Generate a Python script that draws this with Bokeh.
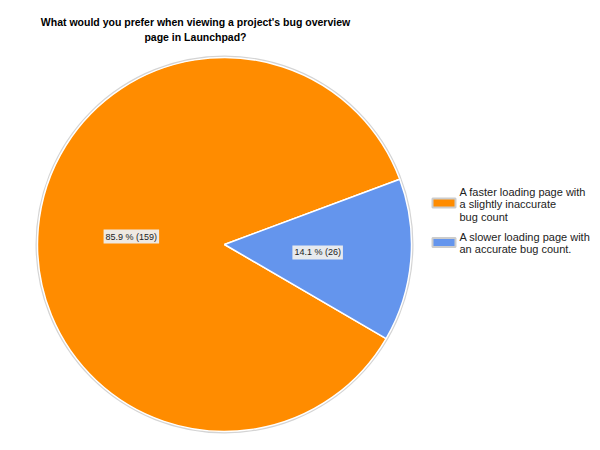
import math
from bokeh.plotting import figure
from bokeh.models import ColumnDataSource, Range1d
from bokeh.core.properties import value
from bokeh.embed import file_html
from bokeh.resources import INLINE

# ---- data ----
title_text = "What would you prefer when viewing a project's bug overview\npage in Launchpad?"
categories = ["A faster loading page with\na slightly inaccurate\nbug count",
              "A slower loading page with\nan accurate bug count."]
counts = [159, 26]
colors = ["#FF8C00", "#6495ED"]

W, H = 592, 442
def X(px):
    return px
def Y(py):
    return H - py

p = figure(width=W, height=H, output_backend="svg", toolbar_location=None,
           x_axis_type=None, y_axis_type=None, min_border=0,
           x_range=Range1d(0, W), y_range=Range1d(0, H))
p.outline_line_color = None
p.grid.visible = False
p.background_fill_color = "white"
p.border_fill_color = "white"

cx, cy, r = X(224), Y(244), 187
total = sum(counts)
start0 = math.radians(20.4)
starts, ends, lx, ly, ltext = [], [], [], [], []
a = start0
for c in counts:
    span = 2 * math.pi * c / total
    starts.append(a)
    ends.append(a + span)
    mid = a + span / 2
    lx.append(cx + 0.5 * r * math.cos(mid))
    ly.append(cy + 0.5 * r * math.sin(mid))
    ltext.append(f"{c / total * 100:.1f} % ({c})")
    a += span

# outer shadow ring
p.circle(x=[cx], y=[cy], radius=r + 1, fill_color=None, line_color="#d4d4d4", line_width=2)

src = ColumnDataSource(dict(start=starts, end=ends, color=colors))
p.wedge(x=cx, y=cy, radius=r, start_angle="start", end_angle="end",
        fill_color="color", line_color="white", line_width=1.5, source=src)

lsrc = ColumnDataSource(dict(x=lx, y=ly, t=ltext))
p.text(x="x", y="y", text="t", source=lsrc, text_align="center", text_baseline="middle",
       text_font=value("Liberation Sans"), text_font_size="9px", text_color="#222222",
       background_fill_color="#eeeeee", background_fill_alpha=0.95, padding=2)

# title
p.text(x=[X(195)], y=[Y(15)], text=[title_text], text_align="center", text_baseline="top",
       text_font=value("Liberation Sans"), text_font_size="10.5px", text_font_style="bold",
       text_color="black", text_line_height=1.3)

# legend
sw_y = [Y(202.5), Y(242)]
tx_y = [Y(185), Y(230)]
p.rect(x=[X(443.5)] * 2, y=sw_y, width=23, height=9, fill_color=colors,
       line_color="#cccccc", line_width=2)
p.text(x=[X(459)] * 2, y=tx_y, text=categories, text_align="left", text_baseline="top",
       text_font=value("Liberation Sans"), text_font_size="11px", text_color="#222222",
       text_line_height=1.05)

open("out.html", "w").write(file_html(p, INLINE))
